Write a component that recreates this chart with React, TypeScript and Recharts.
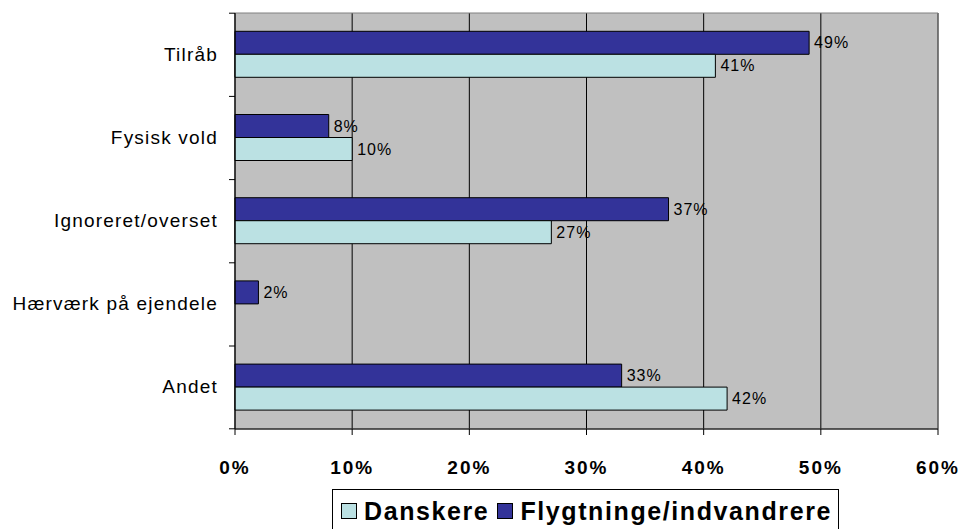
import React from 'react';
import {
  BarChart,
  Bar,
  XAxis,
  YAxis,
  CartesianGrid,
  Legend,
  LabelList,
  ReferenceArea,
} from 'recharts';

const categories = ['Tilråb', 'Fysisk vold', 'Ignoreret/overset', 'Hærværk på ejendele', 'Andet'];
const danskere = [41, 10, 27, null, 42];
const flygtninge = [49, 8, 37, 2, 33];
const xTicks = [0, 10, 20, 30, 40, 50, 60];

const data = categories.map((name, i) => ({
  name,
  danskere: danskere[i],
  flygtninge: flygtninge[i],
}));

const FONT = '"Liberation Sans", Arial, sans-serif';
const DARK = '#333399';
const LIGHT = '#BBE1E3';
const BAND = (427 - 13) / categories.length;

const YTick = (props: any) => {
  const { x, y, payload, index } = props;
  return (
    <g>
      <text
        x={x - 11}
        y={y}
        dy={6}
        textAnchor="end"
        fontSize={19}
        letterSpacing={1.2}
        fontFamily={FONT}
        fill="#000"
      >
        {payload.value}
      </text>
      <line x1={x} x2={x + 6} y1={y - BAND / 2} y2={y - BAND / 2} stroke="#000" />
      {index === categories.length - 1 && (
        <line x1={x} x2={x + 6} y1={y + BAND / 2} y2={y + BAND / 2} stroke="#000" />
      )}
    </g>
  );
};

const legendItems = [
  { label: 'Danskere', color: LIGHT },
  { label: 'Flygtninge/indvandrere', color: DARK },
];

const LegendBox = () => (
  <div
    style={{
      border: '1px solid #000',
      height: 44,
      boxSizing: 'border-box',
      display: 'flex',
      alignItems: 'center',
      paddingLeft: 8,
      fontFamily: FONT,
      fontWeight: 'bold',
      fontSize: 25,
      letterSpacing: 1.6,
      color: '#000',
      background: '#fff',
    }}
  >
    {legendItems.map((it) => (
      <span key={it.label} style={{ display: 'flex', alignItems: 'center', marginRight: 8 }}>
        <span
          style={{
            width: 14,
            height: 14,
            background: it.color,
            border: '1px solid #000',
            marginRight: 7,
            display: 'inline-block',
          }}
        />
        {it.label}
      </span>
    ))}
  </div>
);

export default function App() {
  return (
    <div style={{ position: 'absolute', left: 0, top: 0, background: '#fff' }}>
      <BarChart
        width={963}
        height={529}
        data={data}
        layout="vertical"
        margin={{ top: 13, right: 25, left: 0, bottom: 0 }}
        barCategoryGap="22%"
        barGap={0}
      >
        <CartesianGrid horizontal={false} stroke="#000" fill="#C0C0C0" fillOpacity={1} />
        <ReferenceArea x1={0} x2={60} fill="none" stroke="#808080" />
        <XAxis
          type="number"
          domain={[0, 60]}
          ticks={xTicks}
          tickFormatter={(v) => `${v}%`}
          height={56}
          tickSize={6}
          tickMargin={26}
          axisLine={{ stroke: '#000' }}
          tickLine={{ stroke: '#000' }}
          tick={{ fontSize: 19, fontWeight: 'bold', fill: '#000', fontFamily: FONT, letterSpacing: 2 }}
        />
        <YAxis
          type="category"
          dataKey="name"
          width={235}
          tickSize={6}
          tickMargin={0}
          tickLine={false}
          axisLine={{ stroke: '#000' }}
          tick={<YTick />}
          interval={0}
        />
        <Legend
          verticalAlign="bottom"
          height={40}
          content={() => <LegendBox />}
          wrapperStyle={{ left: 332, top: 489, width: 507, height: 44 }}
        />
        <Bar dataKey="flygtninge" fill={DARK} stroke="#000" strokeWidth={1} isAnimationActive={false}>
          <LabelList
            dataKey="flygtninge"
            position="right"
            offset={5}
            formatter={(v: any) => (v == null ? '' : `${v}%`)}
            style={{ fontSize: 16, fill: '#000', fontFamily: FONT, letterSpacing: 1 }}
          />
        </Bar>
        <Bar dataKey="danskere" fill={LIGHT} stroke="#000" strokeWidth={1} isAnimationActive={false}>
          <LabelList
            dataKey="danskere"
            position="right"
            offset={5}
            formatter={(v: any) => (v == null ? '' : `${v}%`)}
            style={{ fontSize: 16, fill: '#000', fontFamily: FONT, letterSpacing: 1 }}
          />
        </Bar>
      </BarChart>
    </div>
  );
}
